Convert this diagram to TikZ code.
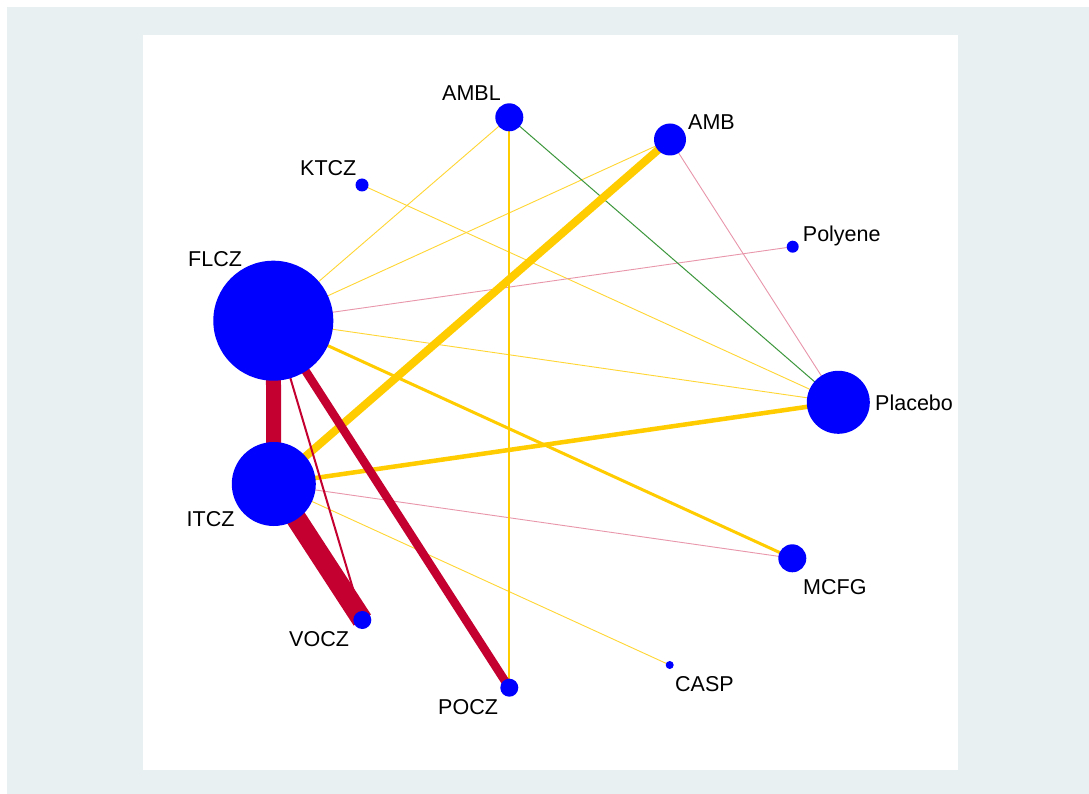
\documentclass[tikz,border=0pt]{standalone}
\usepackage{fontspec}
\setmainfont{Liberation Sans}
\definecolor{bgpanel}{RGB}{232,240,242}
\definecolor{netred}{RGB}{196,0,48}
\definecolor{netyel}{RGB}{255,204,0}
\definecolor{netpink}{RGB}{232,150,170}
\definecolor{netgreen}{RGB}{60,150,60}
\definecolor{netblue}{RGB}{0,0,255}
\tikzset{
  trt/.style={circle, fill=netblue, draw=none, inner sep=0pt, minimum size=#1},
  lab/.style={anchor=base west, inner sep=0pt, font=\fontsize{21.5}{24}\selectfont},
  edge/.style={line cap=butt},
  thinyel/.style={edge, draw=netyel!80, line width=0.9},
}
\begin{document}
\begin{tikzpicture}[x=1pt,y=-1pt]
\useasboundingbox (0,0) rectangle (1089,794);
\fill[white] (0,0) rectangle (1089,794);
\fill[bgpanel] (7,7) rectangle (1089,794);
\fill[white] (143,35) rectangle (957.5,770);

% node positions (drawn later on top)
\coordinate (pAMBL) at (509.3,117.3);
\coordinate (pAMB) at (670,139.5);
\coordinate (pKTCZ) at (362,185);
\coordinate (pPoly) at (792.7,246.7);
\coordinate (pFLCZ) at (273.3,320.7);
\coordinate (pPlac) at (838.3,402.3);
\coordinate (pITCZ) at (273.8,484);
\coordinate (pMCFG) at (792.3,558.3);
\coordinate (pVOCZ) at (362.3,620);
\coordinate (pCASP) at (669.7,665);
\coordinate (pPOCZ) at (509.3,687.7);

% thin edges
\draw[thinyel] (pAMBL) -- (pFLCZ);
\draw[thinyel] (pAMB) -- (pFLCZ);
\draw[thinyel] (pKTCZ) -- (pPlac);
\draw[thinyel] (pFLCZ) -- (pPlac);
\draw[thinyel] (pITCZ) -- (pCASP);
\draw[edge, netpink, line width=0.9] (pFLCZ) -- (pPoly);
\draw[edge, netpink, line width=0.9] (pITCZ) -- (pMCFG);
\draw[edge, netpink, line width=0.9] (pAMB) -- (pPlac);
\draw[edge, netgreen, line width=1] (pAMBL) -- (pPlac);
\draw[edge, netyel, line width=2] (pAMBL) -- (pPOCZ);
\draw[edge, netyel, line width=3] (pFLCZ) -- (pMCFG);
\draw[edge, netyel, line width=4.5] (pITCZ) -- (pPlac);
\draw[edge, netyel, line width=8] (pITCZ) -- (pAMB);
\draw[edge, netred, line width=2] (pFLCZ) -- (pVOCZ);
\draw[edge, netred, line width=8.5] (pFLCZ) -- (pPOCZ);
\draw[edge, netred, line width=15] (pFLCZ) -- (pITCZ);
\draw[edge, netred, line width=20.5] (pITCZ) -- (pVOCZ);

% treatment nodes
\node[trt=28pt] (AMBL) at (pAMBL) {};
\node[trt=32pt] (AMB) at (pAMB) {};
\node[trt=13pt] (KTCZ) at (pKTCZ) {};
\node[trt=12pt] (Polyene) at (pPoly) {};
\node[trt=120pt] (FLCZ) at (pFLCZ) {};
\node[trt=63pt] (Placebo) at (pPlac) {};
\node[trt=84pt] (ITCZ) at (pITCZ) {};
\node[trt=28pt] (MCFG) at (pMCFG) {};
\node[trt=18pt] (VOCZ) at (pVOCZ) {};
\node[trt=8pt] (CASP) at (pCASP) {};
\node[trt=18pt] (POCZ) at (pPOCZ) {};

% labels
\node[lab] (lAMBL) at (442,101) {AMBL};
\node[lab] (lAMB) at (688,130) {AMB};
\node[lab] (lKTCZ) at (300,176) {KTCZ};
\node[lab] (lPoly) at (802.7,241.7) {Polyene};
\node[lab] (lFLCZ) at (188,266) {FLCZ};
\node[lab] (lPlac) at (875,410) {Placebo};
\node[lab] (lITCZ) at (186.5,526.7) {ITCZ};
\node[lab] (lMCFG) at (803,594) {MCFG};
\node[lab] (lVOCZ) at (289,646) {VOCZ};
\node[lab] (lCASP) at (675,691) {CASP};
\node[lab] (lPOCZ) at (438,714) {POCZ};
\end{tikzpicture}
\end{document}
